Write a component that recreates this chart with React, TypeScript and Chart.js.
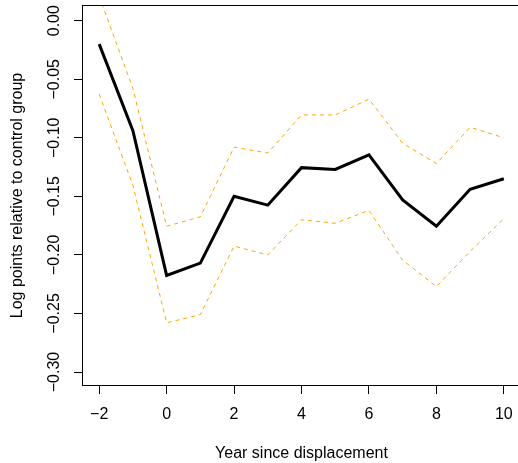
import React, { useEffect, useRef } from "react";
import { Chart, registerables } from "chart.js";

Chart.register(...registerables);

const years = [-2, -1, 0, 1, 2, 3, 4, 5, 6, 7, 8, 9, 10];
const estimate = [-0.020, -0.094, -0.2175, -0.207, -0.150, -0.1575, -0.1255, -0.127, -0.1145, -0.153, -0.1755, -0.144, -0.135];
const upperCI = [0.021, -0.058, -0.1755, -0.1675, -0.108, -0.113, -0.0805, -0.0805, -0.067, -0.1047, -0.122, -0.091, -0.100];
const lowerCI = [-0.0627, -0.1405, -0.258, -0.251, -0.1925, -0.200, -0.170, -0.173, -0.162, -0.2045, -0.227, -0.197, -0.169];
const xTicks = [-2, 0, 2, 4, 6, 8, 10];
const yTicks = [0, -0.05, -0.1, -0.15, -0.2, -0.25, -0.3];
const xTitle = "Year since displacement";
const yTitle = "Log points relative to control group";

const FONT = '"Liberation Sans", Arial, Helvetica, sans-serif';

const boxPlugin = {
  id: "rbox",
  afterDraw(chart: any) {
    const { ctx, chartArea } = chart;
    ctx.save();
    ctx.strokeStyle = "#000";
    ctx.lineWidth = 1;
    ctx.strokeRect(
      Math.round(chartArea.left) - 0.5,
      Math.round(chartArea.top) - 0.5,
      chartArea.right - chartArea.left + 1,
      chartArea.bottom - chartArea.top + 1
    );
    ctx.restore();
  },
};

export default function App() {
  const ref = useRef<HTMLCanvasElement | null>(null);

  useEffect(() => {
    if (!ref.current) return;
    const toPts = (arr: number[]) => years.map((x, i) => ({ x, y: arr[i] }));
    const chart = new Chart(ref.current, {
      type: "line",
      data: {
        datasets: [
          {
            label: "upper",
            data: toPts(upperCI),
            borderColor: "#FFA500",
            borderWidth: 1,
            borderDash: [4, 4],
            pointRadius: 0,
            tension: 0,
            fill: false,
          },
          {
            label: "lower",
            data: toPts(lowerCI),
            borderColor: "#FFA500",
            borderWidth: 1,
            borderDash: [4, 4],
            pointRadius: 0,
            tension: 0,
            fill: false,
          },
          {
            label: "estimate",
            data: toPts(estimate),
            borderColor: "#000",
            borderWidth: 3,
            pointRadius: 0,
            tension: 0,
            fill: false,
          },
        ],
      },
      options: {
        responsive: false,
        animation: false,
        layout: { padding: { top: 6, left: 0, right: 0, bottom: 0 } },
        plugins: {
          legend: { display: false },
          tooltip: { enabled: false },
        },
        scales: {
          x: {
            type: "linear",
            min: -2.48,
            max: 10.48,
            afterBuildTicks: (s: any) => {
              s.ticks = xTicks.map((v) => ({ value: v }));
            },
            afterFit: (s: any) => {
              s.height = 78;
              s.paddingLeft = 0;
              s.paddingRight = 0;
            },
            border: { display: false },
            grid: {
              display: true,
              drawOnChartArea: false,
              drawTicks: true,
              tickLength: 9,
              color: "#000",
              lineWidth: 1,
            },
            ticks: {
              color: "#000",
              font: { family: FONT, size: 16 },
              padding: 11,
              maxRotation: 0,
              minRotation: 0,
              autoSkip: false,
              callback: (v: any) => String(v).replace("-", "\u2212"),
            },
            title: {
              display: true,
              text: xTitle,
              color: "#000",
              font: { family: FONT, size: 16 },
              padding: { top: 0, bottom: 0 },
            },
          },
          y: {
            type: "linear",
            min: -0.3111,
            max: 0.01255,
            afterBuildTicks: (s: any) => {
              s.ticks = yTicks.map((v) => ({ value: v }));
            },
            afterFit: (s: any) => {
              s.width = 83;
              s.paddingTop = 0;
              s.paddingBottom = 0;
            },
            border: { display: false },
            grid: {
              display: true,
              drawOnChartArea: false,
              drawTicks: true,
              tickLength: 9,
              color: "#000",
              lineWidth: 1,
            },
            ticks: {
              color: "#000",
              font: { family: FONT, size: 16 },
              padding: -1,
              minRotation: 90,
              maxRotation: 90,
              crossAlign: "center",
              autoSkip: false,
              callback: (v: any) => {
                const n = Number(v);
                return (n < -1e-9 ? "\u2212" : "") + Math.abs(n).toFixed(2);
              },
            },
            title: {
              display: true,
              text: yTitle,
              color: "#000",
              font: { family: FONT, size: 16 },
              padding: { top: 8, bottom: 0 },
            },
          },
        },
      },
      plugins: [boxPlugin],
    });
    return () => chart.destroy();
  }, []);

  return (
    <div
      style={{
        position: "fixed",
        left: 0,
        top: 0,
        width: 518,
        height: 463,
        overflow: "hidden",
        background: "#fff",
      }}
    >
      <canvas ref={ref} width={520} height={463} style={{ width: 520, height: 463, display: "block" }} />
    </div>
  );
}
